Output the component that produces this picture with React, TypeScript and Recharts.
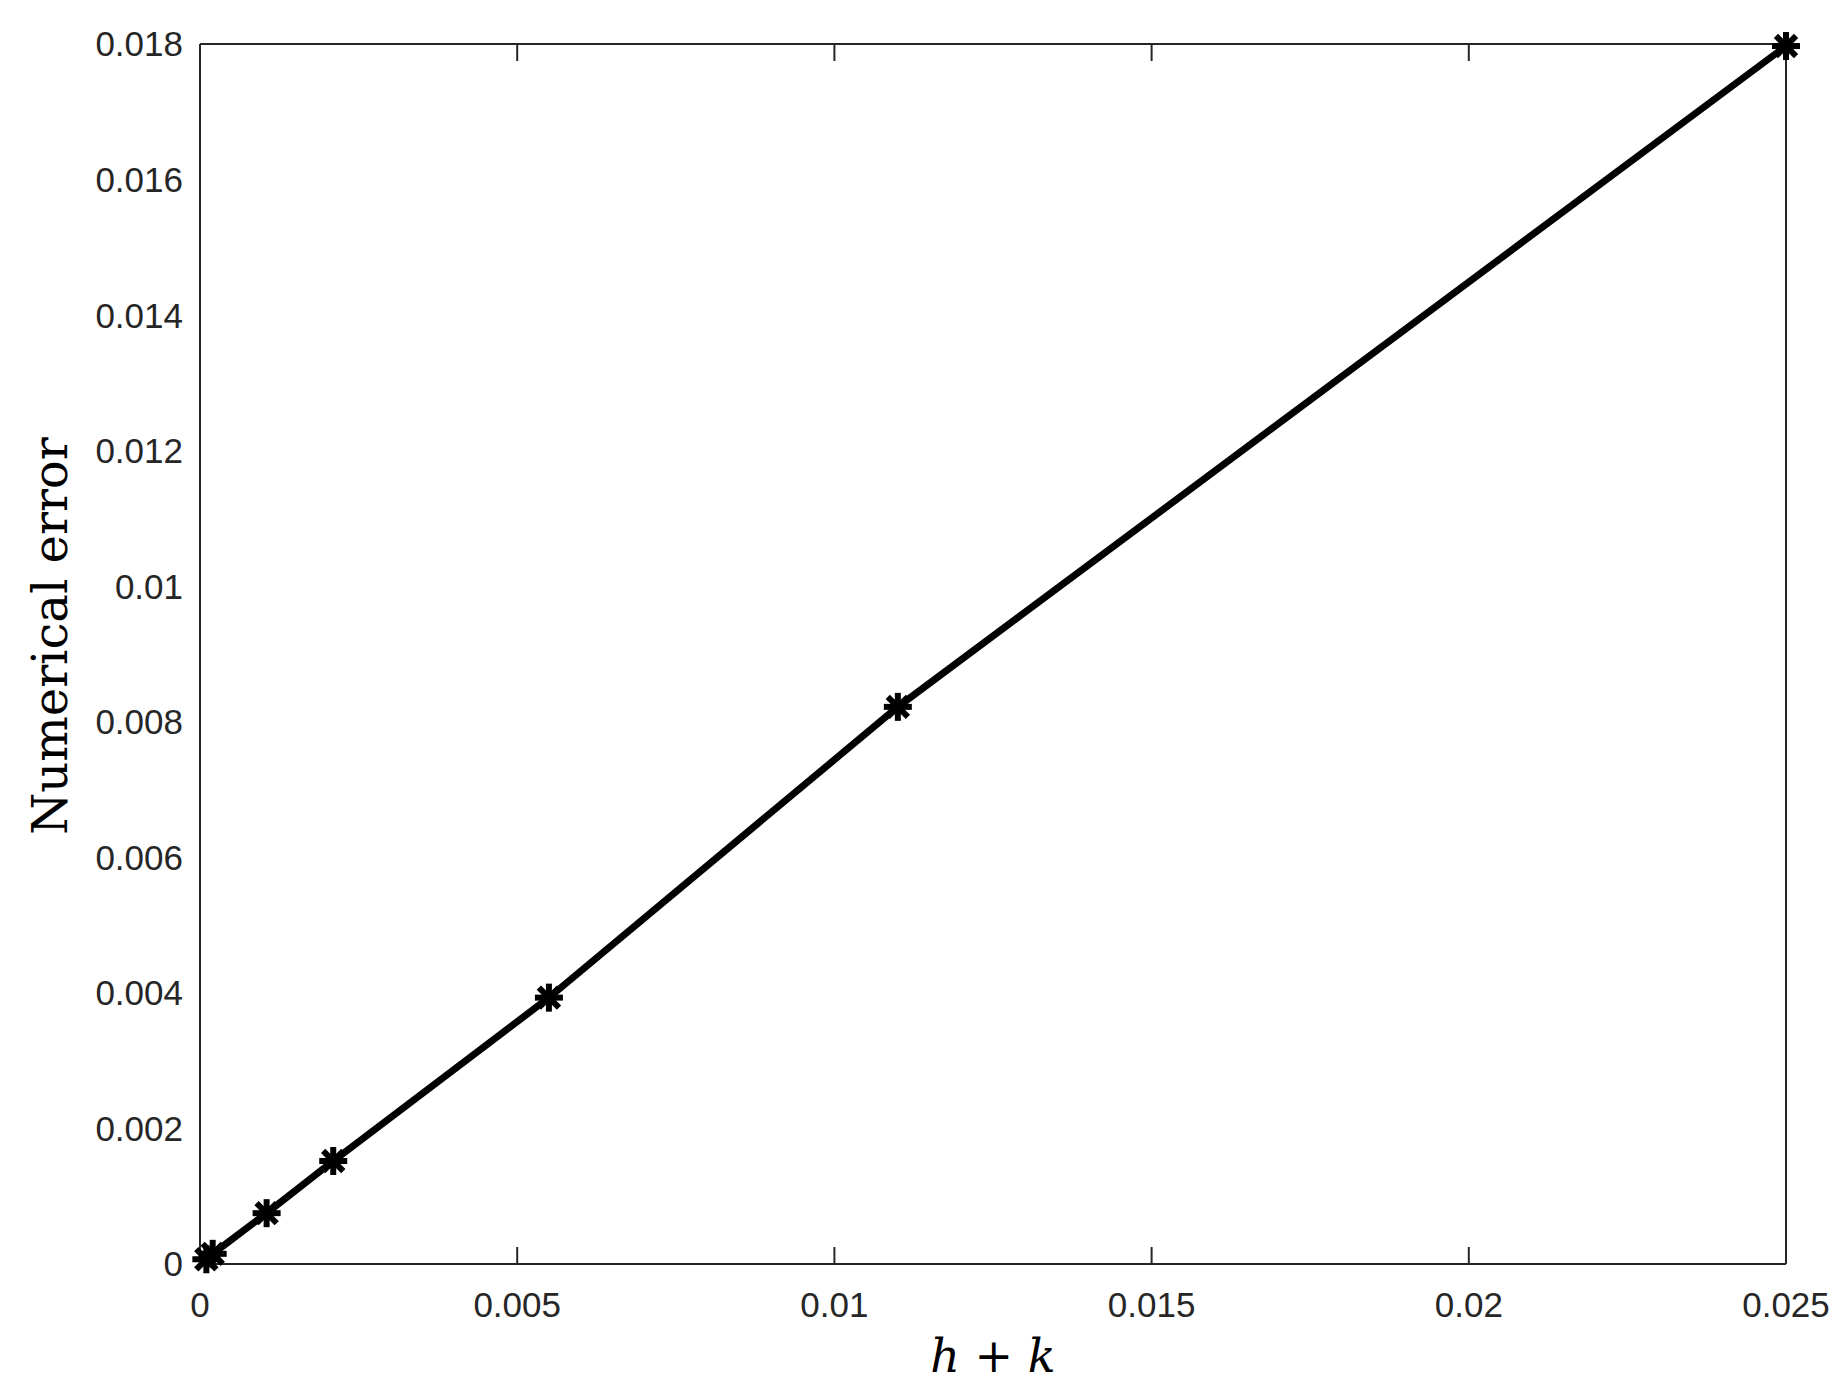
import { Line, LineChart, XAxis, YAxis } from "recharts"

const hk = [0.0001, 0.0002, 0.00105, 0.0021, 0.0055, 0.011, 0.025]
const err = [0.00007, 0.00015, 0.00075, 0.00152, 0.00393, 0.00822, 0.01797]
const xTicks = [0, 0.005, 0.01, 0.015, 0.02, 0.025]
const yTicks = [0, 0.002, 0.004, 0.006, 0.008, 0.01, 0.012, 0.014, 0.016, 0.018]

const data = hk.map((x, i) => ({ x, err: err[i] }))

const axisColor = "#262626"
const tickFont = { fontFamily: "Liberation Sans", fontSize: 35, fill: axisColor }
const xDomain = [0, 0.025]
const yDomain = [0, 0.018]

function Star(props: any) {
  const { cx, cy } = props
  if (cx == null || cy == null) return null
  const r = 14
  const d = r * 0.72
  return (
    <g stroke="#000" strokeWidth={6}>
      <line x1={cx - r} y1={cy} x2={cx + r} y2={cy} />
      <line x1={cx} y1={cy - r} x2={cx} y2={cy + r} />
      <line x1={cx - d} y1={cy - d} x2={cx + d} y2={cy + d} />
      <line x1={cx - d} y1={cy + d} x2={cx + d} y2={cy - d} />
    </g>
  )
}

function XLabel(props: any) {
  const { x, y, width } = props.viewBox
  return (
    <text x={x + width / 2} y={y + 108} textAnchor="middle" fontFamily="DejaVu Serif" fontSize={46} fill="#000">
      <tspan fontStyle="italic">h</tspan>
      <tspan> + </tspan>
      <tspan fontStyle="italic">k</tspan>
    </text>
  )
}

function YLabel(props: any) {
  const cx = 50
  const cy = 636
  return (
    <text x={cx} y={cy} textAnchor="middle" dominantBaseline="central" transform={`rotate(-90 ${cx} ${cy})`}
      fontFamily="DejaVu Serif" fontSize={48} fill="#000">
      Numerical error
    </text>
  )
}

export default function App() {
  return (
    <div style={{ position: "absolute", left: 0, top: 0, width: 1848, height: 1392, background: "#fff" }}>
      <LineChart width={1848} height={1392} data={data} margin={{ top: 44, right: 62, bottom: 0, left: 0 }}>
        <XAxis dataKey="x" type="number" domain={xDomain} ticks={xTicks} height={128}
          stroke={axisColor} strokeWidth={2} tickLine={false} tickSize={-17} tickMargin={45} tick={tickFont} label={<XLabel />} />
        <XAxis xAxisId="bin" orientation="bottom" mirror dataKey="x" type="number" domain={xDomain} ticks={xTicks} height={30}
          stroke={axisColor} strokeWidth={2} axisLine={false} tickSize={17} tickFormatter={() => ""} />
        <XAxis xAxisId="top" orientation="top" mirror dataKey="x" type="number" domain={xDomain} ticks={xTicks} height={30}
          stroke={axisColor} strokeWidth={2} tickSize={17} tickFormatter={() => ""} />
        <YAxis type="number" domain={yDomain} ticks={yTicks} width={200}
          stroke={axisColor} strokeWidth={2} tickLine={false} tickSize={-17} tickMargin={34} tick={tickFont} label={<YLabel />} />
        <YAxis yAxisId="lin" orientation="left" mirror type="number" domain={yDomain} ticks={yTicks} width={30}
          stroke={axisColor} strokeWidth={2} axisLine={false} tickSize={17} tickFormatter={() => ""} />
        <YAxis yAxisId="right" orientation="right" mirror type="number" domain={yDomain} ticks={yTicks} width={30}
          stroke={axisColor} strokeWidth={2} tickSize={17} tickFormatter={() => ""} />
        <Line dataKey="err" stroke="#000" strokeWidth={7} dot={<Star />} activeDot={false} isAnimationActive={false} />
      </LineChart>
    </div>
  )
}
